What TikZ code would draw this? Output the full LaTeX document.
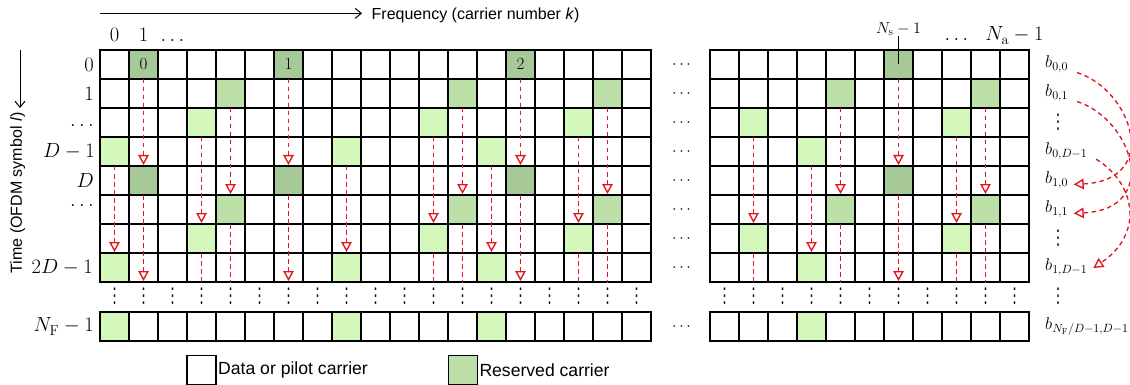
\RequirePackage{fix-cm}
\documentclass[tikz,border=0pt]{standalone}
\usepackage{fontspec}
\setsansfont{Liberation Sans}
\newfontfamily\djv{DejaVu Sans}
\usetikzlibrary{arrows.meta}
\definecolor{rdark}{RGB}{167,201,151}
\definecolor{rmed}{RGB}{189,224,168}
\definecolor{rlight}{RGB}{212,247,188}
\definecolor{arrred}{RGB}{225,22,30}
\newcommand{\myvdots}{{\djv ⋮}}
\begin{document}
\begin{tikzpicture}[x=1pt,y=-1pt,
  cell/.style={draw=black,line width=1.1pt,minimum size=29pt,inner sep=0pt,outer sep=0pt,fill=white},
  dk/.style={fill=rdark}, md/.style={fill=rmed}, lt/.style={fill=rlight},
  f-L-0-1/.style=dk, f-L-0-6/.style=dk, f-L-0-14/.style=dk,
  f-L-1-4/.style=md, f-L-1-12/.style=md, f-L-1-17/.style=md,
  f-L-2-3/.style=lt, f-L-2-11/.style=lt, f-L-2-16/.style=lt,
  f-L-3-0/.style=lt, f-L-3-8/.style=lt, f-L-3-13/.style=lt,
  f-R-0-6/.style=dk, f-R-1-4/.style=md, f-R-1-9/.style=md,
  f-R-2-1/.style=lt, f-R-2-8/.style=lt, f-R-3-3/.style=lt,
  rarrow/.style={draw=arrred,line width=1.35pt,dash pattern=on 4.5pt off 3.5pt,
     -{Triangle[open,length=10pt,width=10.5pt]},shorten >=1pt},
  rcurve/.style={draw=arrred,line width=1.35pt,dash pattern=on 4.5pt off 3.5pt,
     -{Triangle[open,length=10pt,width=10.5pt]},shorten <=2.5pt,shorten >=-1pt},
  mlab/.style={font=\fontsize{20.5}{24}\selectfont,inner sep=0pt},
  blab/.style={font=\fontsize{17}{20}\selectfont,inner xsep=6.5pt,inner ysep=1pt,anchor=west},
  gdots/.style={font=\fontsize{16}{19}\selectfont,inner sep=0pt},
  vdot/.style={font=\fontsize{14}{17}\selectfont,inner sep=0pt,yscale=1.45,transform shape},
  numlab/.style={font=\fontsize{17}{20}\selectfont,inner sep=0pt},
  axarrow/.style={line width=1pt,-{Straight Barb[length=6pt,width=10pt]}},
  legtext/.style={font=\sffamily\fontsize{17.6}{20}\selectfont,inner sep=0pt,anchor=west}
]
\useasboundingbox (0,0) rectangle (1130,385);

% ---- grid cells ----
\foreach \rr in {0,...,7}{
  \pgfmathtruncatemacro\m{mod(\rr,4)}
  \foreach \cc in {0,...,18}{
    \edef\tmp{\noexpand\node[cell,f-L-\m-\cc/.try] (L-\rr-\cc) at ({114.5+29*\cc},{64.5+29*\rr}) {};}\tmp
  }
  \foreach \cc in {0,...,10}{
    \edef\tmp{\noexpand\node[cell,f-R-\m-\cc/.try] (R-\rr-\cc) at ({724.5+29*\cc},{64.5+29*\rr}) {};}\tmp
  }
}
\foreach \cc in {0,...,18}{
  \edef\tmp{\noexpand\node[cell,f-L-3-\cc/.try] (L-F-\cc) at ({114.5+29*\cc},326.5) {};}\tmp
}
\foreach \cc in {0,...,10}{
  \edef\tmp{\noexpand\node[cell,f-R-3-\cc/.try] (R-F-\cc) at ({724.5+29*\cc},326.5) {};}\tmp
}
\draw[line width=1.6pt] (100,50) rectangle (651,282);
\draw[line width=1.6pt] (710,50) rectangle (1029,282);
\draw[line width=1.6pt] (100,312) rectangle (651,341);
\draw[line width=1.6pt] (710,312) rectangle (1029,341);

% numbers in reserved cells
\node[numlab] (n0) at (L-0-1) {$0$};
\node[numlab] (n1) at (L-0-6) {$1$};
\node[numlab] (n2) at (L-0-14) {$2$};

% ---- red arrows ----
\begin{scope}
\clip (100,50) rectangle (1029,282);
\foreach \m/\cc in {0/1,0/6,0/14,1/4,1/12,1/17,2/3,2/11,2/16,3/0,3/8,3/13}{
  \pgfmathtruncatemacro\rb{\m+4}
  \pgfmathtruncatemacro\rc{\m+8}
  \draw[rarrow] (L-\m-\cc.south) -- (L-\rb-\cc.north);
  \ifnum\rb<7
    \coordinate (P-L-\rb-\cc) at ({114.5+29*\cc},{50+29*\rc});
    \draw[rarrow] (L-\rb-\cc.south) -- (P-L-\rb-\cc);
  \fi
}
\foreach \m/\cc in {0/6,1/4,1/9,2/1,2/8,3/3}{
  \pgfmathtruncatemacro\rb{\m+4}
  \pgfmathtruncatemacro\rc{\m+8}
  \draw[rarrow] (R-\m-\cc.south) -- (R-\rb-\cc.north);
  \ifnum\rb<7
    \coordinate (P-R-\rb-\cc) at ({724.5+29*\cc},{50+29*\rc});
    \draw[rarrow] (R-\rb-\cc.south) -- (P-R-\rb-\cc);
  \fi
}
\end{scope}

% ---- dots ----
\foreach \rr in {0,...,7}{
  \node[gdots] (g-\rr) at (681.5,{64.5+29*\rr}) {$\cdots$};
}
\node[gdots] (g-F) at (681.5,326.5) {$\cdots$};
\foreach \cc in {0,...,18}{
  \node[vdot] (vL-\cc) at ({114.5+29*\cc},296) {\myvdots};
}
\foreach \cc in {0,...,10}{
  \node[vdot] (vR-\cc) at ({724.5+29*\cc},296) {\myvdots};
}

% ---- axis labels ----
\coordinate (fa) at (100,13.3);
\coordinate (fb) at (362,13.3);
\draw[axarrow] (fa) -- (fb);
\node[font=\sffamily\fontsize{16}{19}\selectfont,inner sep=0pt,anchor=base west] (freq) at (371.5,19.8) {Frequency (carrier number \textit{k})};
\coordinate (ta) at (20,50);
\coordinate (tb) at (20,108);
\draw[axarrow] (ta) -- (tb);
\node[font=\sffamily\fontsize{16}{19}\selectfont,inner sep=0pt,anchor=base west,rotate=90] (time) at (21.8,273.5) {Time (OFDM symbol \textit{l})};

% column labels
\node[mlab,anchor=base] (c0) at (114.5,41.5) {$0$};
\node[mlab,anchor=base] (c1) at (143.5,41.5) {$1$};
\node[mlab,anchor=base] (c2) at (172.5,41.5) {$\dots$};
\node[mlab,anchor=base] (c3) at (956.5,41) {$\dots$};
\node[mlab,anchor=base] (c4) at (1014.5,41) {$N_\mathrm{a}-1$};
\node[font=\fontsize{16}{19}\selectfont,inner sep=0pt,anchor=base] (ns) at (898.5,33.3) {$N_\mathrm{s}-1$};
\draw[line width=1pt] (ns.south) -- (R-0-6.center);

% row labels
\node[mlab,anchor=east] (r0) at (94,64.5) {$0$};
\node[mlab,anchor=east] (r1) at (94,93.5) {$1$};
\node[mlab,anchor=east] (r2) at (94,125.5) {$\dots$};
\node[mlab,anchor=east] (r3) at (95,151.5) {$D-1$};
\node[mlab,anchor=east] (r4) at (94,180.5) {$D$};
\node[mlab,anchor=east] (r5) at (94,205.5) {$\dots$};
\node[mlab,anchor=east] (r7) at (93,267.5) {$2D-1$};
\node[mlab,anchor=east] (rF) at (94,326.5) {$N_\mathrm{F}-1$};

% right labels
\node[blab] (b00) at (1038.5,64.5) {$b_{0,0}$};
\node[blab] (b01) at (1038.5,93.5) {$b_{0,1}$};
\node[vdot] (bd1) at (1058,122.5) {\myvdots};
\node[blab] (b0D) at (1038.5,151.5) {$b_{0,D-1}$};
\node[blab] (b10) at (1038.5,180.5) {$b_{1,0}$};
\node[blab] (b11) at (1038.5,209.5) {$b_{1,1}$};
\node[vdot] (bd2) at (1058,238.5) {\myvdots};
\node[blab] (b1D) at (1038.5,267.5) {$b_{1,D-1}$};
\node[vdot] (bd3) at (1058,296) {\myvdots};
\node[blab] (bF) at (1038.5,326.5) {$b_{N_\mathrm{F}/D-1,D-1}$};

\draw[rcurve] (b00.-22) .. controls (1132,90) and (1162,180) .. (b10.-12);
\draw[rcurve] (b01.-22) .. controls (1132,119) and (1162,209) .. (b11.-12);
\draw[rcurve] (b0D.-13) .. controls (1135,183) and (1145,233) .. (b1D.east);

% legend
\node[cell] (leg1) at (201.5,370) {};
\node[legtext] (leg1t) at ([xshift=2pt]leg1.east) {Data or pilot carrier};
\node[cell,fill=rmed] (leg2) at (462.8,370) {};
\node[legtext] (leg2t) at ([xshift=2pt]leg2.east) {Reserved carrier};
\end{tikzpicture}
\end{document}
